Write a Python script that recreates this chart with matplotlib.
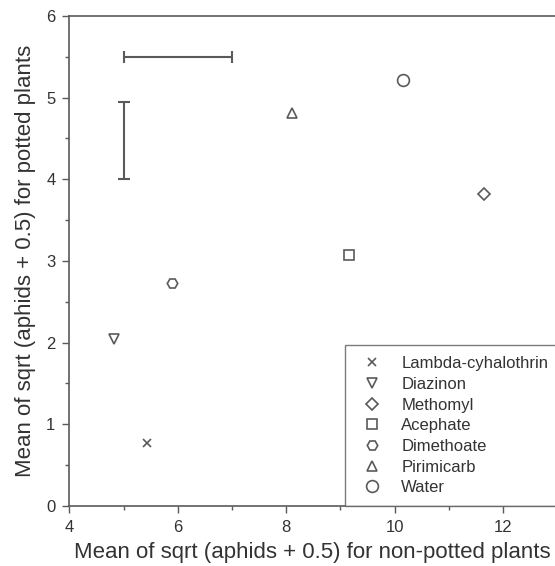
import matplotlib
matplotlib.use("Agg")
import matplotlib.pyplot as plt

plt.rcParams['font.family'] = ['Liberation Sans', 'DejaVu Sans']

# treatment means, sqrt(aphids + 0.5)
treatments = ['Lambda-cyhalothrin', 'Diazinon', 'Methomyl', 'Acephate',
              'Dimethoate', 'Pirimicarb', 'Water']
markers = ['x', 'v', 'D', 's', 'H', '^', 'o']
msizes = [6, 7.5, 6.5, 7, 7.5, 7.5, 8.5]
non_potted = [5.44, 4.83, 11.65, 9.16, 5.89, 8.11, 10.16]
potted = [0.77, 2.05, 3.82, 3.07, 2.73, 4.81, 5.22]

# LSD bars
hbar_x = [5.0, 7.0]
hbar_y = 5.5
vbar_x = 5.0
vbar_y = [4.0, 4.95]

grey = '#5a5a5a'
txt = '#333333'

fig = plt.figure(figsize=(5.55, 5.66), dpi=100)
ax = fig.add_axes([0.125, 0.106, 0.875, 0.866])

for name, m, ms, x, y in zip(treatments, markers, msizes, non_potted, potted):
    ax.plot(x, y, linestyle='none', marker=m, markersize=ms,
            markerfacecolor='none', markeredgecolor=grey,
            markeredgewidth=1.2, label=name)

ax.errorbar([sum(hbar_x) / 2], [hbar_y], xerr=[(hbar_x[1] - hbar_x[0]) / 2],
            fmt='none', ecolor=grey, elinewidth=1.5, capsize=4, capthick=1.5)
ax.errorbar([vbar_x], [sum(vbar_y) / 2], yerr=[(vbar_y[1] - vbar_y[0]) / 2],
            fmt='none', ecolor=grey, elinewidth=1.5, capsize=4, capthick=1.5)

ax.set_xlim(4, 12.96)
ax.set_ylim(0, 6)
ax.set_xticks([4, 6, 8, 10, 12])
ax.set_xticks([5, 7, 9, 11], minor=True)
ax.set_yticks([0, 1, 2, 3, 4, 5, 6])
ax.set_yticks([0.5, 1.5, 2.5, 3.5, 4.5, 5.5], minor=True)
ax.tick_params(which='major', direction='out', length=5, width=1,
               color=grey, labelcolor=txt, labelsize=12, pad=5)
ax.tick_params(which='minor', direction='out', length=3, width=1, color=grey)
ax.spines['right'].set_visible(False)
for s in ['left', 'bottom', 'top']:
    ax.spines[s].set_color(grey)
    ax.spines[s].set_linewidth(1.2)

ax.set_xlabel('Mean of sqrt (aphids + 0.5) for non-potted plants',
              fontsize=16, color=txt, labelpad=5)
ax.set_ylabel('Mean of sqrt (aphids + 0.5) for potted plants',
              fontsize=16, color=txt, labelpad=7)

leg = ax.legend(loc='lower left', bbox_to_anchor=(0.567, 0.0),
                borderaxespad=0, fontsize=12, frameon=True, fancybox=False,
                handlelength=2.0, handletextpad=0.75, labelspacing=0.34,
                borderpad=0.65, labelcolor=txt)
leg.get_frame().set_edgecolor(grey)
leg.get_frame().set_linewidth(1.0)

fig.savefig('out.png', dpi=100)
